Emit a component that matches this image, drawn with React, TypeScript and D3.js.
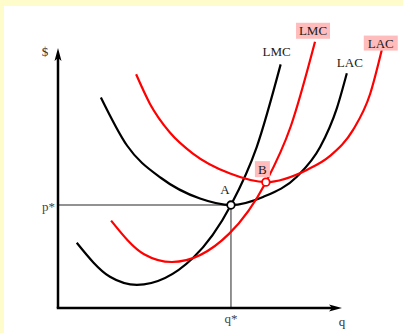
import React from "react";
import * as d3 from "d3";

// Curves: [q, cost] in axis units
const blackLAC: [number, number][] = [
  [1.51, 8.1], [2.43, 6.25], [3.63, 5.0], [5.0, 4.21], [6.09, 3.96], [7.22, 4.27],
  [8.42, 5.06], [9.23, 6.19], [9.82, 7.69], [10.17, 9.03],
];
const blackLMC: [number, number][] = [
  [0.66, 2.51], [1.83, 1.2], [2.78, 0.89], [4.75, 1.92], [6.09, 3.96], [7.0, 6.2], [7.84, 9.37],
];
const redLAC: [number, number][] = [
  [2.75, 8.99], [3.24, 7.85], [3.94, 6.75], [4.75, 5.94], [6.06, 5.17], [7.32, 4.84],
  [8.76, 5.31], [9.58, 5.85], [10.39, 6.85], [10.99, 8.23], [11.4, 9.92],
];
const redLMC: [number, number][] = [
  [1.87, 3.36], [3.03, 2.07], [4.01, 1.77], [6.02, 2.85], [7.32, 4.84], [8.2, 7.0], [9.05, 10.24],
];
const pointA: [number, number] = [6.09, 3.96];
const pointB: [number, number] = [7.32, 4.84];
const axisMax = 10;

const W = 403;
const H = 333;
const x = d3.scaleLinear().domain([0, 10]).range([58, 342]);
const y = d3.scaleLinear().domain([0, 10]).range([308, 48]);

const line = d3
  .line<[number, number]>()
  .x((d) => x(d[0]))
  .y((d) => y(d[1]))
  .curve(d3.curveMonotoneX);

const FONT = "'Liberation Serif', 'Times New Roman', serif";
const RED = "#ff0000";
const PINK = "#ffbcbc";

export default function App() {
  const ox = x(0);
  const oy = y(0);
  const tipY = y(axisMax);
  const tipX = x(axisMax);
  const last = (a: [number, number][]) => a[a.length - 1];
  const bLMC = last(blackLMC);
  const bLAC = last(blackLAC);
  const rLMC = last(redLMC);
  const rLAC = last(redLAC);

  const label = (
    text: string,
    cx: number,
    cy: number,
    box: boolean,
    bw = 34,
    bh = 16
  ) => (
    <g key={text + cx}>
      {box && <rect x={cx - bw / 2} y={cy - bh / 2} width={bw} height={bh} fill={PINK} />}
      <text x={cx} y={cy + 4.5} textAnchor="middle" fontFamily={FONT} fontSize={13} fill="#1a1a1a">
        {text}
      </text>
    </g>
  );

  return (
    <svg
      width={W}
      height={H}
      style={{ position: "absolute", left: 0, top: 0, display: "block" }}
    >
      <rect x={0} y={0} width={W} height={H} fill="#fffccc" />
      <rect x={4} y={6} width={W - 4} height={H - 6} fill="#ffffff" />

      {/* guide lines */}
      <line x1={ox} y1={y(pointA[1])} x2={x(pointA[0])} y2={y(pointA[1])} stroke="#6e6e6e" strokeWidth={1.5} />
      <line x1={x(pointA[0])} y1={y(pointA[1])} x2={x(pointA[0])} y2={oy} stroke="#6e6e6e" strokeWidth={1.5} />

      {/* axes */}
      <line x1={ox} y1={oy} x2={ox} y2={tipY + 8} stroke="#000" strokeWidth={2.5} />
      <line x1={ox - 1.25} y1={oy} x2={tipX - 8} y2={oy} stroke="#000" strokeWidth={2.5} />
      <path
        d={`M${ox},${tipY} L${ox + 3.5},${tipY + 13} L${ox},${tipY + 10} L${ox - 3.5},${tipY + 13} Z`}
        fill="#000"
      />
      <path
        d={`M${tipX},${oy} L${tipX - 13},${oy - 3.5} L${tipX - 10},${oy} L${tipX - 13},${oy + 3.5} Z`}
        fill="#000"
      />

      {/* curves */}
      <path d={line(blackLAC) || ""} fill="none" stroke="#000" strokeWidth={2.2} />
      <path d={line(blackLMC) || ""} fill="none" stroke="#000" strokeWidth={2.2} />
      <path d={line(redLAC) || ""} fill="none" stroke={RED} strokeWidth={2.2} />
      <path d={line(redLMC) || ""} fill="none" stroke={RED} strokeWidth={2.2} />

      {/* labels */}
      {label("LMC", x(bLMC[0]) - 4, y(bLMC[1]) - 13, false)}
      {label("LAC", x(bLAC[0]) + 3, y(bLAC[1]) - 11, false)}
      {label("LMC", x(rLMC[0]) - 2, y(rLMC[1]) - 11, true, 34, 16)}
      {label("LAC", x(rLAC[0]) - 1, y(rLAC[1]) - 7, true, 34, 15)}
      {label("B", x(pointB[0]) - 3.5, y(pointB[1]) - 13, true, 15, 16)}
      {label("A", x(pointA[0]) - 6, y(pointA[1]) - 16, false)}

      {/* points */}
      <circle cx={x(pointA[0])} cy={y(pointA[1])} r={3.8} fill="#fff" stroke="#000" strokeWidth={1.8} />
      <circle cx={x(pointB[0])} cy={y(pointB[1])} r={3.8} fill="#fff" stroke={RED} strokeWidth={1.8} />

      {/* axis text */}
      <text x={ox - 13} y={tipY + 8} textAnchor="middle" fontFamily={FONT} fontSize={13} fill="#333">$</text>
      <text x={ox - 3} y={y(pointA[1]) + 6} textAnchor="end" fontFamily={FONT} fontSize={13} fill="#444">p*</text>
      <text x={x(pointA[0])} y={oy + 15} textAnchor="middle" fontFamily={FONT} fontSize={13} fill="#444">q*</text>
      <text x={tipX} y={oy + 18} textAnchor="middle" fontFamily={FONT} fontSize={13} fill="#333">q</text>
    </svg>
  );
}
